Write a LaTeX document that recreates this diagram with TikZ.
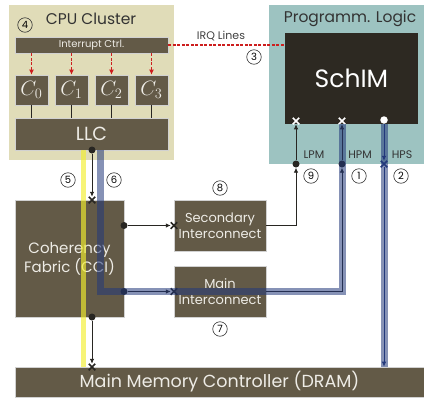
\documentclass[tikz,border=0pt]{standalone}
\usepackage{fontspec}
\setmainfont{Poppins}
\usetikzlibrary{arrows.meta,shapes.misc}
\definecolor{boxbrown}{RGB}{99,90,71}
\definecolor{schimdark}{RGB}{45,41,34}
\definecolor{cpubg}{RGB}{224,220,184}
\definecolor{plbg}{RGB}{157,195,193}
\definecolor{irqred}{RGB}{205,30,30}
\definecolor{hpblue}{RGB}{34,56,122}
\definecolor{lpyellow}{RGB}{242,238,46}
\definecolor{boxtext}{RGB}{238,236,230}
\definecolor{linegray}{RGB}{40,38,34}

\begin{document}
\begin{tikzpicture}
[x=1pt,y=-1pt,
  areadecorate/.style={shape=rectangle,inner sep=0pt,draw=none},
  boxdecorate/.style={shape=rectangle,inner sep=0pt,fill=boxbrown,draw=black!18,line width=0.7pt,text=boxtext,align=center},
  linedecorate/.style={-,line width=0.7pt,draw=linegray},
  arrowdecorate/.style={-{Latex[length=5pt,width=4.5pt]},line width=0.8pt,draw=linegray},
  irqdecorate/.style={dash pattern=on 3pt off 1.5pt,line width=1.1pt,draw=irqred},
  dotdecorate/.style={shape=circle,inner sep=0pt,minimum size=7pt,fill=linegray},
  crossdecorate/.style={shape=cross out,inner sep=0pt,minimum size=5pt,line width=1.5pt,draw=linegray},
  numdecorate/.style={shape=circle,inner sep=0pt,minimum size=14.5pt,draw=black!80,line width=0.6pt,font=\fontsize{10}{10}\selectfont},
  banddecorate/.style={line width=7pt,draw=hpblue,draw opacity=0.55,line join=miter}]
\useasboundingbox (0,0) rectangle (424,399);
%% background areas
\node (cpuarea) at (91.5,82.5) [areadecorate,fill=cpubg,minimum width=165pt,minimum height=155pt] {};
\node (plarea) at (346.5,84.5) [areadecorate,fill=plbg,minimum width=155pt,minimum height=159pt] {};
\node (cputitle) at (91,19) [font=\fontsize{15.5}{15.5}\selectfont,text=black!80] {CPU Cluster};
\node (pltitle) at (350,19) [font=\fontsize{15.5}{15.5}\selectfont,text=black!80] {Programm. Logic};
%% boxes
\node (irq) at (91.5,45) [boxdecorate,minimum width=153pt,minimum height=16pt,font=\fontsize{10}{10}\selectfont] {Interrupt Ctrl.};
\node (llc) at (91.5,134) [boxdecorate,minimum width=153pt,minimum height=32pt,font=\fontsize{19}{19}\selectfont] {LLC};
\node (cci) at (69.5,258.5) [boxdecorate,minimum width=109pt,minimum height=117pt,font=\fontsize{15}{19}\selectfont] {Coherency\\Fabric (CCI)};
\node (sec) at (220,225.5) [boxdecorate,minimum width=92pt,minimum height=51pt,font=\fontsize{13}{15.5}\selectfont] {Secondary\\Interconnect};
\node (main) at (220,291.5) [boxdecorate,minimum width=92pt,minimum height=51pt,font=\fontsize{13}{15.5}\selectfont] {Main\\Interconnect};
\node (mmc) at (219.5,382) [boxdecorate,minimum width=409pt,minimum height=30pt,font=\fontsize{17.5}{17.5}\selectfont] {Main Memory Controller (DRAM)};
\node (schim) at (351.5,78.5) [boxdecorate,fill=schimdark,draw=none,minimum width=133pt,minimum height=91pt,font=\fontsize{25}{25}\selectfont,text=white] {SchIM};
%% cores
\foreach \corename/\x/\idx in {c0/31.5/0, c1/71.5/1, c2/111.5/2, c3/151.5/3}
{
  \node (\corename) at (\x,90) [boxdecorate,minimum width=33pt,minimum height=30pt,font=\fontsize{20}{20}\selectfont] {$C_{\idx}$};
  \draw [irqdecorate,-{Latex[length=5pt,width=5pt]}] (irq.south -| \corename) -- (\corename.north);
  \draw [linedecorate] (\corename.south) -- (llc.north -| \corename);
}
%% irq lines
\draw [irqdecorate] (irq.east) -- (irq.east -| schim.west);
\node (irqtext) at (221,36) [font=\fontsize{11}{11}\selectfont,text=black!75] {IRQ Lines};
%% dots and crosses
\foreach \dotname/\x/\y in {dllc/92/150, dccisec/124/225.5, dccimain/124/291.5,
  dccibot/92/317, dlpm/296/164, dhpm/342/164}
  \node (\dotname) at (\x,\y) [dotdecorate] {};
\foreach \crossname/\x/\y/\crosscolor in {xcci/92/200/linegray, xsec/174/225.5/linegray,
  xmain/174/291.5/linegray, xmmc/92/367/linegray, xlpm/296/121/white,
  xhpm/342/121/white, xhps/384/164/hpblue}
  \node (\crossname) at (\x,\y) [crossdecorate,draw=\crosscolor] {};
\node (ohps) at (384,120) [dotdecorate,fill=white,minimum size=7.5pt] {};
%% connectors
\draw [arrowdecorate] (dllc) -- (xcci);
\draw [arrowdecorate] (dccisec) -- (xsec);
\draw [arrowdecorate] (dccimain) -- (xmain);
\draw [arrowdecorate] (dccibot) -- (xmmc);
\draw [arrowdecorate] (sec.east) -| (dlpm);
\draw [arrowdecorate] (dlpm) -- (xlpm);
\draw [arrowdecorate] (main.east) -| (dhpm);
\draw [arrowdecorate] (dhpm) -- (xhpm);
\draw [arrowdecorate,draw=hpblue] (ohps) -- (xhps);
\draw [arrowdecorate,draw=hpblue] (xhps) -- (xhps |- mmc.north);
%% highlighted paths
\coordinate (ybandtop) at (83.5,150);
\coordinate (ybandbot) at (83.5,367);
\coordinate (bbandtop) at (100,150);
\draw [banddecorate,draw=lpyellow,draw opacity=0.65,line width=5.5pt] (ybandtop) -- (ybandbot);
\draw [banddecorate] (bbandtop) |- (dhpm |- dccimain) -- (dhpm |- schim.south);
\draw [banddecorate] (xhps |- schim.south) -- (xhps |- mmc.north);
%% port labels and numbers
\foreach \portname/\x/\txt in {lpm/314/LPM, hpm/360/HPM, hps/402/HPS}
  \node (\portname) at (\x,155) [font=\fontsize{11}{11}\selectfont,text=black!80] {\txt};
\foreach \numname/\x/\y/\txt in {n4/25/25/4, n3/254/57/3, n5/68/180/5, n6/114/180/6,
  n8/220/188/8, n7/220/329/7, n9/311/176/9, n1/359/176/1, n2/401/176/2}
  \node (\numname) at (\x,\y) [numdecorate] {\txt};
\end{tikzpicture}
\end{document}
